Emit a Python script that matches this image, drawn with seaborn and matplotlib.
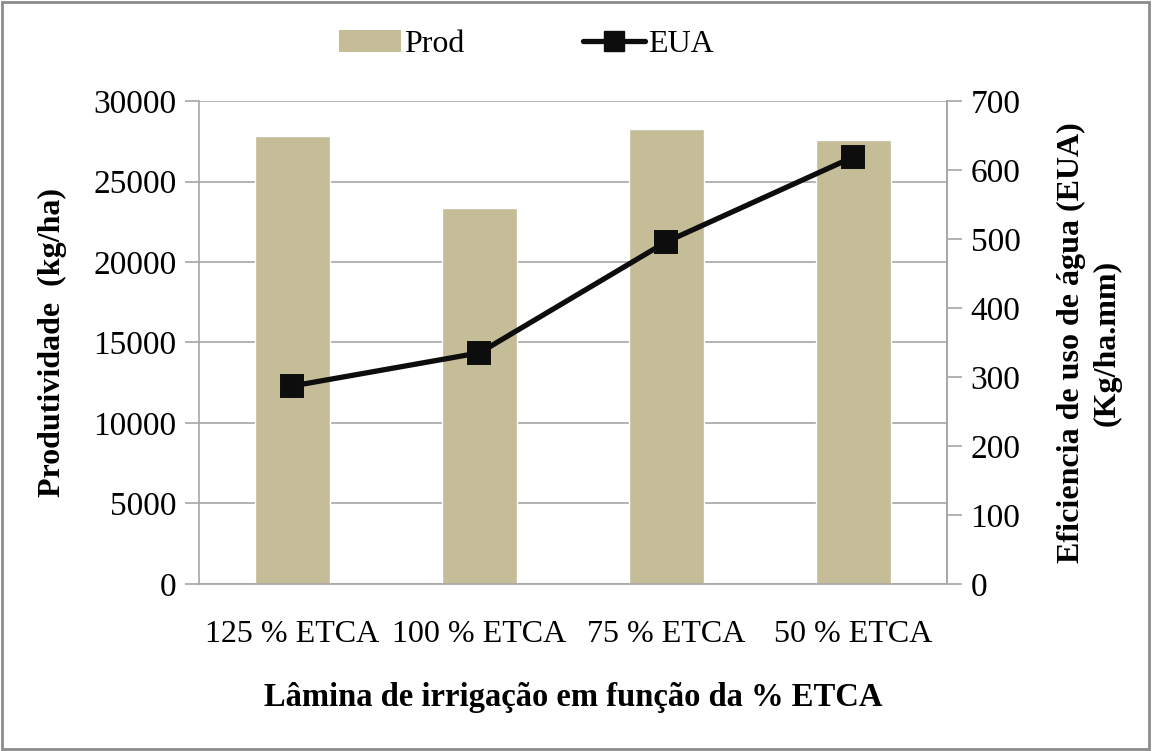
import matplotlib
matplotlib.use("Agg")
import matplotlib.pyplot as plt
import seaborn as sns
import pandas as pd
from matplotlib.patches import Patch, Rectangle
from matplotlib.lines import Line2D

categories = ["125 % ETCA", "100 % ETCA", "75 % ETCA", "50 % ETCA"]
prod = [27800, 23350, 28250, 27550]
eua = [287, 335, 496, 619]
left_ticks = [0, 5000, 10000, 15000, 20000, 25000, 30000]
right_ticks = [0, 100, 200, 300, 400, 500, 600, 700]

sns.set_theme(style="white")
plt.rcParams['font.family'] = ['Liberation Serif', 'DejaVu Serif']
plt.rcParams['text.color'] = 'black'
plt.rcParams['axes.labelcolor'] = 'black'
plt.rcParams['xtick.color'] = 'black'
plt.rcParams['ytick.color'] = 'black'

df = pd.DataFrame({"cat": categories, "prod": prod, "eua": eua})

fig = plt.figure(figsize=(11.52, 7.51), dpi=100)
ax = fig.add_axes([0.1727, 0.2224, 0.822 - 0.1727, 0.8655 - 0.2224])

bar_color = "#C4BD97"
grid_color = "#A6A6A6"

sns.barplot(data=df, x="cat", y="prod", color=bar_color, width=0.4,
            saturation=1, ax=ax, zorder=2)
ax.set_ylim(0, 30000)
ax.set_yticks(left_ticks)
ax.set_yticklabels([str(t) for t in left_ticks])
ax.yaxis.grid(True, color=grid_color, linewidth=1.2, zorder=0)
ax.set_axisbelow(True)

ax.spines["top"].set_visible(False)
for s in ["left", "bottom", "right"]:
    ax.spines[s].set_color(grid_color)
    ax.spines[s].set_linewidth(1.2)

ax.tick_params(axis="y", which="both", left=True, length=10, width=1.2,
               color=grid_color, labelcolor="black", labelsize=24, pad=6)
ax.tick_params(axis="x", bottom=False, labelcolor="black", labelsize=23, pad=20)
ax.set_xlabel("Lâmina de irrigação em função da % ETCA", fontsize=23.5,
              fontweight="bold", labelpad=24, color="black")
ax.set_ylabel("Produtividade  (kg/ha)", fontsize=23, fontweight="bold",
              labelpad=19, color="black")

ax2 = ax.twinx()
sns.pointplot(data=df, x="cat", y="eua", color="#0D0D0D", markers="s",
              linestyles="-", ax=ax2, markersize=15, linewidth=3.8)
ax2.set_ylim(0, 700)
ax2.set_yticks(right_ticks)
ax2.set_yticklabels([str(t) for t in right_ticks])
ax2.tick_params(axis="y", right=True, length=11, width=1.2, color=grid_color,
                labelcolor="black", labelsize=24, pad=6)
for s in ["top", "left", "bottom"]:
    ax2.spines[s].set_visible(False)
ax2.spines["right"].set_color(grid_color)
ax2.spines["right"].set_linewidth(1.2)
ax2.set_ylabel("Eficiencia de uso de água (EUA)\n(Kg/ha.mm)", fontsize=23,
               fontweight="bold", labelpad=26, linespacing=1.3, color="black")
ax2.set_xlabel("")
ax.set_xlim(-0.5, 3.5)

handles = [Patch(facecolor=bar_color, edgecolor="none"),
           Line2D([0], [0], color="#0D0D0D", linewidth=3.8, marker="s",
                  markersize=15)]
fig.legend(handles, ["Prod", "EUA"], loc="center", bbox_to_anchor=(0.457, 0.941),
           ncol=2, frameon=False, fontsize=23, columnspacing=3.7,
           handlelength=1.95, handletextpad=0.1)

fig.add_artist(Rectangle((0.002, 0.003), 0.995, 0.994, transform=fig.transFigure,
                         fill=False, edgecolor="#8C8C8C", linewidth=2))

fig.savefig("out.png", dpi=100)
